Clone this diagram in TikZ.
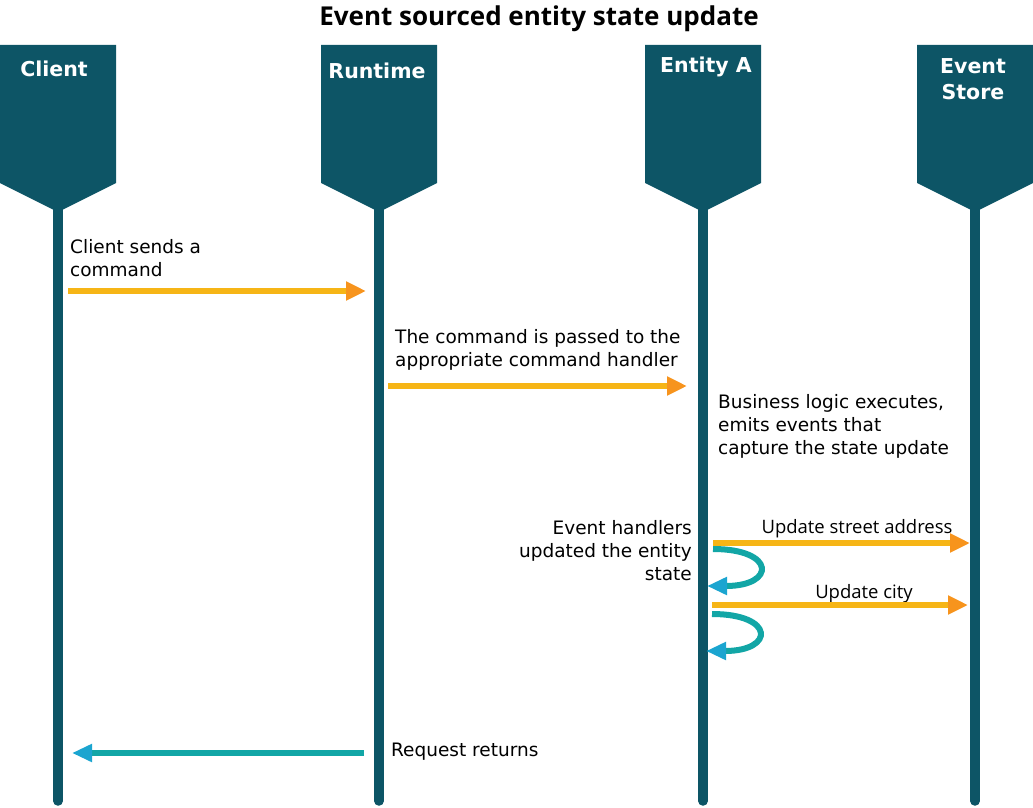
\documentclass[tikz,border=0pt]{standalone}
\usepackage{fontspec}
\setmainfont{DejaVu Sans}
\newfontfamily\labelfont{Open Sans}
\usetikzlibrary{arrows.meta}

\definecolor{laneteal}{HTML}{0D5566}
\definecolor{cmdyellow}{HTML}{F6B516}
\definecolor{cmdorange}{HTML}{F7941D}
\definecolor{backteal}{HTML}{12A6A6}
\definecolor{backblue}{HTML}{1BA5D0}

\tikzset{
  lane/.style={laneteal, line width=9.5pt, line cap=round},
  head/.style={fill=laneteal, draw=none},
  headtext/.style={text=white, font=\fontsize{20.5}{26}\selectfont\bfseries, align=center, inner sep=0},
  note/.style={font=\fontsize{18.5}{23}\selectfont, inner sep=0},
  eventtext/.style={font=\labelfont\fontsize{18.5}{22}\selectfont, inner sep=0},
  command/.style={cmdyellow, line width=6pt, -{Triangle[length=20pt, width=18pt, color=cmdorange]}},
  reply/.style={backteal, line width=6pt, -{Triangle[length=20pt, width=17pt, color=backblue]}}
}

\begin{document}
\begin{tikzpicture}[x=1pt, y=-1pt]
\useasboundingbox (0,0) rectangle (1033,808);

\node[font=\labelfont\fontsize{26}{30}\selectfont\bfseries, inner sep=0] (title) at (539,19) {Event sourced entity state update};

\foreach \name/\cx in {client/58, runtime/379, entity/703, store/975} {
  \draw[lane] (\cx,200) -- (\cx,801);
  \fill[head] (\cx-58,45) -- (\cx+58,45) -- (\cx+58,183) -- (\cx,212) -- (\cx-58,183) -- cycle;
  \coordinate (\name) at (\cx,212);
}
\node[headtext] (client-label) at (54,69) {Client};
\node[headtext] (runtime-label) at (377,71) {Runtime};
\node[headtext] (entity-label) at (706,67) {Entity A};
\node[headtext] (store-label) at (973,79) {Event\\Store};

\coordinate (c1) at (68,291);   \coordinate (r1) at (366,291);
\coordinate (r2) at (388,386);  \coordinate (e2) at (687,386);
\coordinate (e3) at (713,543);  \coordinate (s3) at (970,543);
\coordinate (e4) at (712,605);  \coordinate (s4) at (968,605);
\coordinate (r5) at (364,753);  \coordinate (c5) at (72,753);
\coordinate (loopa) at (713,549); \coordinate (loopaend) at (707,586);
\coordinate (loopb) at (712,614); \coordinate (loopbend) at (706,651);

\node[note, anchor=west, align=left] (send) at (70,258) {Client sends a\\command};
\draw[command] (c1) -- (r1);

\node[note, anchor=west, align=left] (pass) at (395,350) {The command is passed to the\\appropriate command handler};
\draw[command] (r2) -- (e2);

\node[note, anchor=west, align=left] (logic) at (718,426) {Business logic executes,\\emits events that\\capture the state update};

\node[note, anchor=east, align=right] (handlers) at (692,551) {Event handlers\\updated the entity\\state};

\node[eventtext] (street) at (857,529) {Update street address};
\draw[command] (e3) -- (s3);
\draw[reply] (loopa) .. controls (776,549) and (776,586) .. (loopaend);

\node[eventtext] (city) at (864,594) {Update city};
\draw[command] (e4) -- (s4);
\draw[reply] (loopb) .. controls (775,614) and (775,651) .. (loopbend);

\node[note, anchor=west] (returns) at (391,752) {Request returns};
\draw[reply] (r5) -- (c5);
\end{tikzpicture}
\end{document}
